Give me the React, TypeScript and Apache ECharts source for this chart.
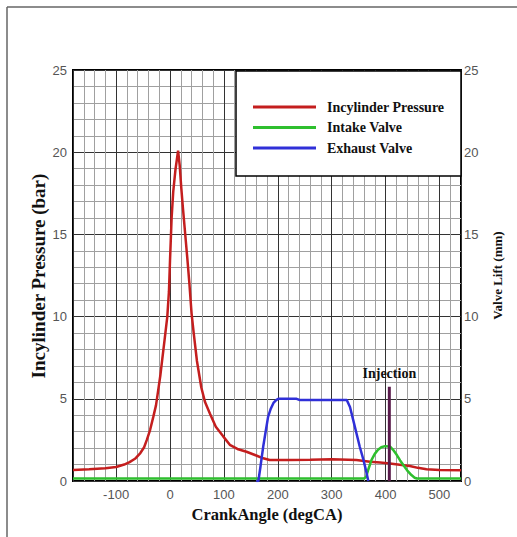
import React, { useEffect, useRef } from 'react';
import * as echarts from 'echarts';

// Crank angle (degCA) and in-cylinder pressure (bar)
const pressureAngle = [-180, -150, -120, -100, -85, -75, -65, -55, -48, -43, -37, -31, -26, -22, -18, -14, -10, -5, -2, 0, 3, 6, 10, 15, 18, 21, 24, 28, 32, 36, 40, 44, 50, 58, 65, 74, 85, 99, 111, 125, 142, 160, 173, 185, 220, 260, 300, 346, 371, 390, 408, 430, 445, 460, 476, 500, 540];
const pressure = [0.67, 0.72, 0.78, 0.85, 1.0, 1.15, 1.35, 1.7, 2.05, 2.5, 3.1, 3.9, 4.6, 5.5, 6.4, 7.5, 8.6, 10.0, 11.5, 13.4, 16.0, 17.6, 18.9, 20.1, 19.2, 17.8, 16.6, 15.1, 13.6, 12.0, 10.2, 9.0, 7.3, 5.7, 4.8, 4.1, 3.3, 2.7, 2.2, 1.95, 1.78, 1.55, 1.38, 1.28, 1.28, 1.3, 1.33, 1.28, 1.17, 1.12, 1.07, 0.98, 0.91, 0.8, 0.71, 0.67, 0.66];

// Intake valve lift (mm)
const intakeAngle = [-180, 360, 364, 368, 374, 380, 386, 392, 399, 408, 414, 421, 427, 433, 440, 448, 454, 458, 540];
const intakeLift = [0.15, 0.15, 0.25, 0.7, 1.28, 1.65, 1.9, 2.05, 2.12, 2.1, 1.9, 1.58, 1.25, 0.97, 0.65, 0.36, 0.2, 0.15, 0.15];

// Exhaust valve lift (mm)
const exhaustAngle = [160, 164, 168, 173, 178, 182, 187, 192, 197, 201, 235, 240, 328, 334, 340, 346, 352, 359, 364, 368];
const exhaustLift = [0, 0, 0.9, 2.1, 3.1, 3.9, 4.4, 4.75, 4.92, 5.0, 5.0, 4.93, 4.93, 4.5, 3.7, 2.9, 2.1, 1.28, 0.6, 0];

// Injection marker
const injectionAngle = 407;
const injectionHeight = 5.73;

const seriesNames = ['Incylinder Pressure', 'Intake Valve', 'Exhaust Valve'];
const seriesColors = ['#c41e1e', '#2ebf2e', '#3030d8'];
const leftAxisTitle = 'Incylinder Pressure (bar)';

const zip = (xs: number[], ys: number[]) => xs.map((x, i) => [x, ys[i]]);

export default function App() {
  const ref = useRef<HTMLDivElement>(null);
  useEffect(() => {
    const chart = echarts.init(ref.current!, null, { renderer: 'svg' });
    const tickFont = { color: '#555', fontSize: 13, fontFamily: 'Liberation Sans' };
    const titleFont = { color: '#111', fontFamily: 'Liberation Serif', fontWeight: 'bold' as const };
    chart.setOption({
      animation: false,
      backgroundColor: '#fff',
      grid: {
        left: 73, top: 70, right: 56, bottom: 56,
        show: true, borderColor: '#000', borderWidth: 2, backgroundColor: '#fff',
      },
      legend: {
        orient: 'vertical', left: 248, top: 95, itemWidth: 63, itemHeight: 3, itemGap: 6.5,
        icon: 'rect', z: 6, selectedMode: false,
        data: seriesNames,
        textStyle: { color: '#111', fontSize: 14, lineHeight: 14, fontFamily: 'Liberation Serif', fontWeight: 'bold', padding: [0, 0, 0, 6] },
      },
      graphic: [
        { type: 'line', shape: { x1: 7, y1: 7, x2: 517, y2: 7 }, style: { stroke: '#666', lineWidth: 1.5 } },
        { type: 'line', shape: { x1: 7, y1: 7, x2: 7, y2: 537 }, style: { stroke: '#666', lineWidth: 1.5 } },
        { type: 'rect', z: 5, shape: { x: 236, y: 71, width: 225, height: 105 }, style: { fill: '#fff', stroke: '#000', lineWidth: 1.5 } },
        {
          type: 'text', x: 38, y: 276, rotation: Math.PI / 2,
          style: { text: leftAxisTitle, align: 'center', verticalAlign: 'middle', fill: '#111', fontSize: 19, fontFamily: 'Liberation Serif', fontWeight: 'bold' },
        },
      ],
      xAxis: {
        type: 'value', min: -180, max: 540, splitNumber: 5,
        name: 'CrankAngle (degCA)', nameLocation: 'middle', nameGap: 24,
        nameTextStyle: { ...titleFont, fontSize: 16.5 },
        axisLine: { show: false }, axisTick: { show: false },
        axisLabel: { ...tickFont, margin: 7, formatter: (v: number) => (v % 100 === 0 ? String(v) : '') },
        splitLine: { show: true, lineStyle: { color: '#333', width: 1 } },
        minorTick: { show: false, splitNumber: 5 },
        minorSplitLine: { show: true, lineStyle: { color: '#a0a0a0', width: 1 } },
      },
      yAxis: [
        {
          type: 'value', min: 0, max: 25, interval: 5, position: 'left',
          axisLine: { show: false }, axisTick: { show: false },
          axisLabel: { ...tickFont, margin: 6 },
          splitLine: { show: true, lineStyle: { color: '#333', width: 1 } },
          minorTick: { show: false, splitNumber: 5 },
          minorSplitLine: { show: true, lineStyle: { color: '#a0a0a0', width: 1 } },
        },
        {
          type: 'value', min: 0, max: 25, interval: 5, position: 'right',
          name: 'Valve Lift (mm)', nameLocation: 'middle', nameGap: 30,
          nameTextStyle: { ...titleFont, fontSize: 13 },
          axisLine: { show: false }, axisTick: { show: false },
          axisLabel: { ...tickFont, margin: 3 },
          splitLine: { show: false },
        },
      ],
      series: [
        {
          name: seriesNames[0], type: 'line', yAxisIndex: 0, showSymbol: false, symbol: 'none',
          data: zip(pressureAngle, pressure), color: seriesColors[0],
          lineStyle: { color: seriesColors[0], width: 2.5 },
        },
        {
          name: seriesNames[1], type: 'line', yAxisIndex: 1, showSymbol: false, symbol: 'none',
          data: zip(intakeAngle, intakeLift), color: seriesColors[1],
          lineStyle: { color: seriesColors[1], width: 2.5 },
        },
        {
          name: seriesNames[2], type: 'line', yAxisIndex: 1, showSymbol: false, symbol: 'none',
          data: zip(exhaustAngle, exhaustLift), color: seriesColors[2],
          lineStyle: { color: seriesColors[2], width: 2.5 },
        },
        {
          name: 'Injection', type: 'line', yAxisIndex: 1, showSymbol: false, symbol: 'none',
          data: [[injectionAngle, 0], [injectionAngle, injectionHeight]],
          lineStyle: { color: '#5a1c4c', width: 3 },
          markPoint: {
            symbol: 'circle', symbolSize: 0,
            data: [{ coord: [injectionAngle, injectionHeight] }],
            label: {
              show: true, position: 'top', distance: 6, formatter: 'Injection',
              color: '#111', fontSize: 14, fontFamily: 'Liberation Serif', fontWeight: 'bold',
            },
          },
        },
      ],
    });
    return () => chart.dispose();
  }, []);
  return <div ref={ref} style={{ position: 'absolute', left: 0, top: 0, width: 517, height: 537 }} />;
}
